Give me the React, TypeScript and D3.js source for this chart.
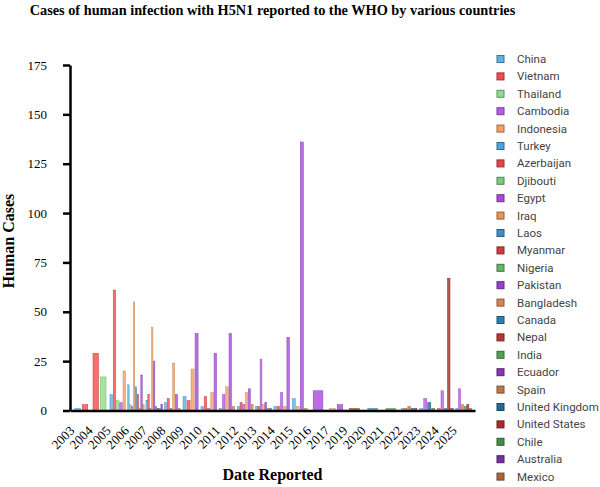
import { useEffect, useRef } from "react";
import * as d3 from "d3";

const YEARS = [
  "2003", "2004", "2005", "2006", "2007", "2008", "2009", "2010", "2011", "2012", "2013",
  "2014", "2015", "2016", "2017", "2019", "2020", "2021", "2022", "2023", "2024", "2025",
];

const COUNTRIES = [
  "China", "Vietnam", "Thailand", "Cambodia", "Indonesia",
  "Turkey", "Azerbaijan", "Djibouti", "Egypt", "Iraq",
  "Laos", "Myanmar", "Nigeria", "Pakistan", "Bangladesh",
  "Canada", "Nepal", "India", "Ecuador", "Spain",
  "United Kingdom", "United States", "Chile", "Australia", "Mexico",
];

// five hue families, each shade a little darker than the last
const COLORS = [
  "#5DB2E6", "#F24E4E", "#8EDC8E", "#BA5CEA", "#F2A166",
  "#48A4E0", "#E34545", "#7BCB7B", "#A84BDB", "#E5945A",
  "#3A8FCB", "#D03C3C", "#66B566", "#9940C9", "#D4864F",
  "#2E7DB5", "#BB3434", "#559F55", "#8636B2", "#BF7745",
  "#24689A", "#A52D2D", "#468A46", "#73309A", "#A8683C",
];

const Y_TICKS = [0, 25, 50, 75, 100, 125, 150, 175];

// [year reported, country, human cases]
const REPORTS: [string, string, number][] = [
  ["2003", "China", 1], ["2003", "Vietnam", 3],
  ["2004", "Vietnam", 29], ["2004", "Thailand", 17],
  ["2005", "China", 8], ["2005", "Vietnam", 61], ["2005", "Thailand", 5], ["2005", "Cambodia", 4], ["2005", "Indonesia", 20],
  ["2006", "China", 13], ["2006", "Thailand", 3], ["2006", "Cambodia", 2], ["2006", "Indonesia", 55], ["2006", "Turkey", 12],
  ["2006", "Azerbaijan", 8], ["2006", "Djibouti", 1], ["2006", "Egypt", 18], ["2006", "Iraq", 3],
  ["2007", "China", 5], ["2007", "Vietnam", 8], ["2007", "Cambodia", 1], ["2007", "Indonesia", 42], ["2007", "Egypt", 25],
  ["2007", "Laos", 2], ["2007", "Myanmar", 1], ["2007", "Nigeria", 1], ["2007", "Pakistan", 3],
  ["2008", "China", 4], ["2008", "Vietnam", 6], ["2008", "Cambodia", 1], ["2008", "Indonesia", 24], ["2008", "Egypt", 8], ["2008", "Bangladesh", 1],
  ["2009", "China", 7], ["2009", "Vietnam", 5], ["2009", "Indonesia", 21], ["2009", "Egypt", 39],
  ["2010", "China", 2], ["2010", "Vietnam", 7], ["2010", "Cambodia", 1], ["2010", "Indonesia", 9], ["2010", "Egypt", 29],
  ["2011", "China", 1], ["2011", "Cambodia", 8], ["2011", "Indonesia", 12], ["2011", "Egypt", 39], ["2011", "Bangladesh", 2],
  ["2012", "China", 2], ["2012", "Vietnam", 4], ["2012", "Cambodia", 3], ["2012", "Indonesia", 9], ["2012", "Egypt", 11], ["2012", "Bangladesh", 3],
  ["2013", "China", 2], ["2013", "Vietnam", 2], ["2013", "Cambodia", 26], ["2013", "Indonesia", 3], ["2013", "Egypt", 4],
  ["2013", "Bangladesh", 1], ["2013", "Canada", 1],
  ["2014", "China", 2], ["2014", "Vietnam", 2], ["2014", "Cambodia", 9], ["2014", "Indonesia", 2], ["2014", "Egypt", 37],
  ["2015", "China", 6], ["2015", "Indonesia", 2], ["2015", "Egypt", 136], ["2015", "Bangladesh", 1],
  ["2016", "Egypt", 10],
  ["2017", "Indonesia", 1], ["2017", "Egypt", 3],
  ["2019", "Nepal", 1],
  ["2020", "Laos", 1],
  ["2021", "India", 1],
  ["2022", "China", 1], ["2022", "Vietnam", 1], ["2022", "Spain", 2], ["2022", "United Kingdom", 1], ["2022", "United States", 1],
  ["2023", "China", 1], ["2023", "Cambodia", 6], ["2023", "United Kingdom", 4], ["2023", "Chile", 1],
  ["2024", "Vietnam", 1], ["2024", "Cambodia", 10], ["2024", "Canada", 1], ["2024", "United States", 67], ["2024", "Australia", 1],
  ["2025", "China", 1], ["2025", "Cambodia", 11], ["2025", "Bangladesh", 3], ["2025", "India", 2], ["2025", "United States", 3], ["2025", "Mexico", 1],
];

const SERIF = "'Liberation Serif', 'Times New Roman', serif";

export default function App() {
  const svgRef = useRef<SVGSVGElement>(null);

  useEffect(() => {
    if (!svgRef.current) return;
    const svg = d3.select(svgRef.current);
    svg.selectAll("*").remove();

    const x0 = d3.scaleBand<string>().domain(YEARS).range([70, 475]).paddingInner(0.04).paddingOuter(0.14);
    const y = d3.scaleLinear().domain([0, 175]).range([410.5, 65]);
    const color = d3.scaleOrdinal<string, string>().domain(COUNTRIES).range(COLORS);

    // Bars: each year only gets slots for the countries that reported that year
    const bars = svg.append("g");
    YEARS.forEach((yr) => {
      const rows = REPORTS.filter((r) => r[0] === yr)
        .sort((a, b) => COUNTRIES.indexOf(a[1]) - COUNTRIES.indexOf(b[1]));
      const x1 = d3.scaleBand<string>()
        .domain(rows.map((r) => r[1]))
        .range([0, x0.bandwidth()])
        .paddingInner(0.25)
        .paddingOuter(0.3);

      bars.append("g")
        .attr("transform", `translate(${x0(yr)},0)`)
        .selectAll("rect")
        .data(rows)
        .join("rect")
        .attr("x", (d) => x1(d[1])!)
        .attr("y", (d) => y(d[2]))
        .attr("width", x1.bandwidth())
        .attr("height", (d) => y(0) - y(d[2]))
        .attr("fill", (d) => color(d[1]))
        .attr("fill-opacity", 0.8)
        .attr("stroke", (d) => d3.color(color(d[1]))!.darker(0.5).formatHex())
        .attr("stroke-width", 0.5);
    });

    // Y axis
    svg.append("g")
      .attr("transform", "translate(70,0)")
      .call(d3.axisLeft(y).tickValues(Y_TICKS).tickSize(7).tickSizeOuter(0).tickPadding(16))
      .call((g) => g.select(".domain").attr("stroke", "#000").attr("stroke-width", 2.5))
      .call((g) => g.selectAll(".tick line").attr("stroke", "#000").attr("stroke-width", 2.5))
      .call((g) => g.selectAll(".tick text")
        .attr("fill", "#000")
        .attr("font-size", "13px")
        .attr("font-family", SERIF));

    // X axis, rotated year labels
    svg.append("g")
      .attr("transform", "translate(0,410.5)")
      .call(d3.axisBottom(x0).tickSize(0).tickSizeOuter(0))
      .call((g) => g.select(".domain").attr("stroke", "#000").attr("stroke-width", 2.5))
      .call((g) => g.selectAll(".tick text")
        .attr("x", 0)
        .attr("y", 0)
        .attr("dy", null)
        .attr("transform", "translate(-6,21) rotate(-45)")
        .attr("text-anchor", "end")
        .attr("fill", "#000")
        .attr("font-size", "13px")
        .attr("font-family", SERIF));

    // Titles
    svg.append("text")
      .attr("x", 272.5)
      .attr("y", 15)
      .attr("text-anchor", "middle")
      .attr("font-family", SERIF)
      .attr("font-weight", "bold")
      .attr("font-size", "14.3px")
      .text("Cases of human infection with H5N1 reported to the WHO by various countries");

    svg.append("text")
      .attr("x", 272.5)
      .attr("y", 480)
      .attr("text-anchor", "middle")
      .attr("font-family", SERIF)
      .attr("font-weight", "bold")
      .attr("font-size", "16px")
      .text("Date Reported");

    svg.append("text")
      .attr("transform", "translate(14,241) rotate(-90)")
      .attr("text-anchor", "middle")
      .attr("font-family", SERIF)
      .attr("font-weight", "bold")
      .attr("font-size", "16px")
      .text("Human Cases");

    // Legend
    const legend = svg.append("g").attr("transform", "translate(497,59)");
    COUNTRIES.forEach((c, i) => {
      const row = legend.append("g").attr("transform", `translate(0,${i * 17.4})`);
      row.append("rect")
        .attr("x", 0)
        .attr("y", -3.5)
        .attr("width", 7)
        .attr("height", 7)
        .attr("fill", color(c))
        .attr("stroke", d3.color(color(c))!.darker(1.2).formatHex())
        .attr("stroke-width", 1);
      row.append("text")
        .attr("x", 20)
        .attr("y", 4)
        .attr("fill", "#444")
        .attr("font-family", "Roboto, sans-serif")
        .attr("font-size", "11.5px")
        .text(c);
    });
  }, []);

  return (
    <div style={{ position: "absolute", left: 0, top: 0 }}>
      <svg ref={svgRef} width={600} height={487} style={{ display: "block", background: "#fff" }} />
    </div>
  );
}
